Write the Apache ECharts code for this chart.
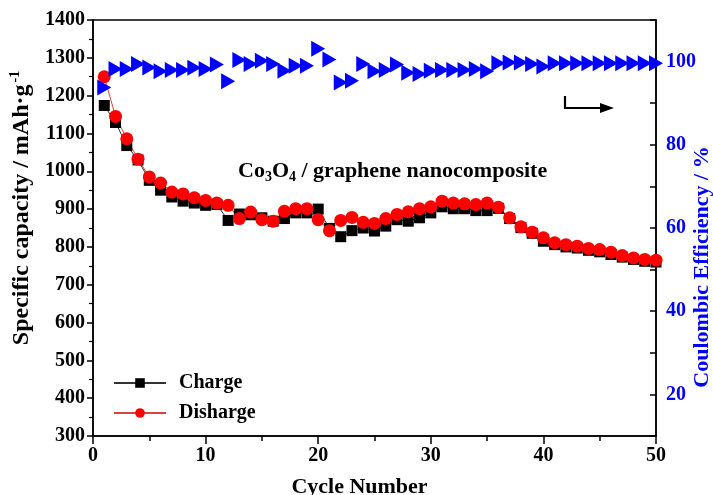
<!DOCTYPE html>
<html><head><meta charset="utf-8">
<script src="https://cdn.jsdelivr.net/npm/echarts@6/dist/echarts.min.js"></script>
<style>html,body{margin:0;padding:0;background:#fff}#c{width:713px;height:495px}</style>
</head><body><div id="c"></div>
<script>
const cycles = [1,2,3,4,5,6,7,8,9,10,11,12,13,14,15,16,17,18,19,20,21,22,23,24,25,26,27,28,29,30,31,32,33,34,35,36,37,38,39,40,41,42,43,44,45,46,47,48,49,50];
const charge = [1174,1129,1068,1030,976,950,932,921,916,910,912,870,887,885,877,868,875,890,890,900,849,827,843,850,842,855,872,868,877,890,906,901,901,896,896,902,875,851,836,815,806,800,797,791,787,780,773,767,762,760];
const discharge = [1250,1145,1086,1032,985,969,945,940,930,923,916,910,875,892,872,868,894,901,901,872,843,870,878,865,862,875,886,893,901,906,921,916,914,912,916,905,877,853,839,824,811,806,802,796,793,786,777,771,767,765];
const efficiency = [93.8,98.2,98.2,99.4,98.6,97.7,98.0,98.0,98.5,98.2,99.3,95.3,100.4,99.4,100.2,99.4,97.8,99.0,99.0,103.1,100.5,95.0,95.4,99.4,97.7,98.0,99.3,97.3,97.0,97.8,98.0,98.0,98.0,98.2,97.7,99.6,99.8,99.8,99.4,98.8,99.6,99.6,99.6,99.6,99.6,99.6,99.6,99.6,99.6,99.6];
const xTicks = {min:0, max:50, interval:10};
const yLeft = {min:300, max:1400, interval:100};
const yRight = {min:10, max:110, interval:10, labels:[20,40,60,80,100]};

const F = 'Liberation Serif';
const pair = arr => arr.map((v,i)=>[cycles[i], v]);
const chart = echarts.init(document.getElementById('c'));
chart.setOption({
  animation:false,
  backgroundColor:'#fff',
  grid:{left:93,right:57,top:20,bottom:59,containLabel:false,outerBoundsMode:'none',show:true,borderColor:'#000',borderWidth:1.5},
  xAxis:{type:'value',min:xTicks.min,max:xTicks.max,interval:xTicks.interval,
    name:'Cycle Number',nameLocation:'middle',nameGap:40,
    nameTextStyle:{fontFamily:F,fontWeight:'bold',fontSize:22,color:'#000',padding:[0,30,0,0]},
    axisLine:{lineStyle:{color:'#000',width:1.5}},
    axisTick:{length:8,lineStyle:{color:'#000',width:1.5}},
    minorTick:{show:true,splitNumber:2,length:5,lineStyle:{color:'#000',width:1.5}},
    axisLabel:{fontFamily:F,fontWeight:'bold',fontSize:20,color:'#000',margin:10,formatter:v=>String(v)},
    splitLine:{show:false}},
  yAxis:[
    {type:'value',min:yLeft.min,max:yLeft.max,interval:yLeft.interval,
     name:'{a|Specific capacity / mAh·g}{s|-1}',nameLocation:'middle',nameGap:54,
     nameTextStyle:{fontFamily:F,fontWeight:'bold',fontSize:24,color:'#000',padding:[0,0,0,40],
       rich:{a:{fontFamily:F,fontWeight:'bold',fontSize:24,color:'#000'},
             s:{fontFamily:F,fontWeight:'bold',fontSize:14,color:'#000',padding:[0,0,13,2]}}},
     axisLine:{show:true,lineStyle:{color:'#000',width:1.5}},
     axisTick:{show:true,length:6,lineStyle:{color:'#000',width:1.5}},
     minorTick:{show:true,splitNumber:2,length:4,lineStyle:{color:'#000',width:1.2}},
     axisLabel:{fontFamily:F,fontWeight:'bold',fontSize:20,color:'#000',margin:8,formatter:v=>String(v)},
     splitLine:{show:false}},
    {type:'value',position:'right',min:yRight.min,max:yRight.max,interval:yRight.interval,
     axisLine:{show:true,lineStyle:{color:'#000',width:1.5}},
     axisTick:{show:true,inside:true,length:6,lineStyle:{color:'#000',width:1.5}},
     axisLabel:{fontFamily:F,fontWeight:'bold',fontSize:20,color:'#0000ff',margin:10,
       formatter:v=>yRight.labels.includes(v)?String(v):''},
     splitLine:{show:false}}
  ],
  legend:{orient:'vertical',left:108,top:368,itemWidth:52,itemHeight:12,itemGap:10,
    data:['Charge','Disharge'],
    textStyle:{fontFamily:F,fontWeight:'bold',fontSize:20,color:'#000',padding:[0,0,0,8]}},
  series:[
    {name:'Charge',type:'line',yAxisIndex:0,data:pair(charge),symbol:'rect',symbolSize:11,
     itemStyle:{color:'#000'},lineStyle:{color:'#333',width:1}},
    {name:'Disharge',type:'line',yAxisIndex:0,data:pair(discharge),symbol:'circle',symbolSize:13,
     itemStyle:{color:'#ff0000'},lineStyle:{color:'#e04040',width:1}},
    {name:'CE',type:'line',yAxisIndex:1,data:pair(efficiency),symbol:'triangle',symbolSize:[16,14],symbolRotate:-90,
     itemStyle:{color:'#0000ff'},lineStyle:{width:0,opacity:0}}
  ],
  graphic:[
    {type:'text',x:702,y:267,rotation:Math.PI/2,style:{
      text:'Coulombic Efficiency / %',fontFamily:F,fontWeight:'bold',fontSize:22,fill:'#0000ff',
      align:'center',verticalAlign:'middle'}},
    {type:'text',left:238,top:160,style:{
      text:'{a|Co}{s|3}{a|O}{s|4}{a| / graphene nanocomposite}',
      rich:{a:{fontFamily:F,fontWeight:'bold',fontSize:22,fill:'#000'},
            s:{fontFamily:F,fontWeight:'bold',fontSize:14,fill:'#000',padding:[12,0,0,0]}}}},
    {type:'polyline',shape:{points:[[565,96],[565,108],[604,108]]},style:{stroke:'#000',lineWidth:2.2,fill:null}},
    {type:'polygon',shape:{points:[[600,103],[614,108],[600,113]]},style:{fill:'#000'}}
  ]
});
</script></body></html>
